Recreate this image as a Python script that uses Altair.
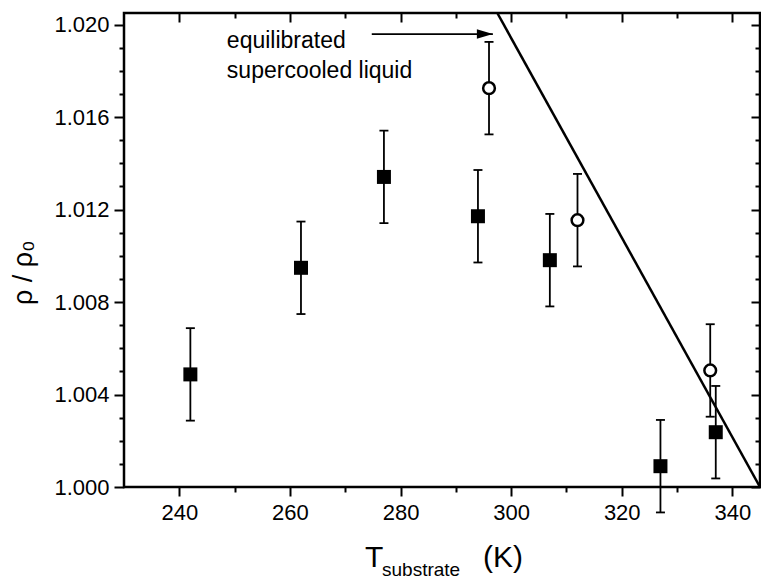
import altair as alt
import pandas as pd

FONT = "Liberation Sans"

# ---- data ----
sq_T = [242, 262, 277, 294, 307, 327, 337]
sq_rho = [1.00487, 1.00948, 1.01341, 1.01171, 1.00981, 1.00090, 1.00237]
sq_err = [0.002, 0.002, 0.002, 0.002, 0.002, 0.002, 0.002]

oc_T = [296, 312, 336]
oc_rho = [1.01725, 1.01154, 1.00504]
oc_err = [0.002, 0.002, 0.002]

line_T = [297.5, 345.0]
line_rho = [1.0205, 1.0000]

arrow_T = [274.8, 296.7]
arrow_rho = [1.01959, 1.01959]

note_text = ["equilibrated", "supercooled liquid"]
note_T = [248.6, 248.6]
note_rho = [1.01900, 1.01769]

x_major = [240, 260, 280, 300, 320, 340]
x_minor = [250, 270, 290, 310, 330]
y_major = [1.000, 1.004, 1.008, 1.012, 1.016, 1.020]
y_minor = [1.001, 1.002, 1.003, 1.005, 1.006, 1.007, 1.009, 1.010, 1.011,
           1.013, 1.014, 1.015, 1.017, 1.018, 1.019]

x_title_parts = ["T", "substrate", "(K)"]
y_title_text = "ρ / ρ₀"

# ---- tables ----
sq = pd.DataFrame({"T": sq_T, "rho": sq_rho,
                   "lo": [r - e for r, e in zip(sq_rho, sq_err)],
                   "hi": [r + e for r, e in zip(sq_rho, sq_err)]})
oc = pd.DataFrame({"T": oc_T, "rho": oc_rho,
                   "lo": [r - e for r, e in zip(oc_rho, oc_err)],
                   "hi": [r + e for r, e in zip(oc_rho, oc_err)]})
allpts = pd.concat([sq, oc], ignore_index=True)
line_df = pd.DataFrame({"T": line_T, "rho": line_rho})
arrow_df = pd.DataFrame({"T": arrow_T, "rho": arrow_rho})
head_df = pd.DataFrame({"T": [arrow_T[-1]], "rho": [arrow_rho[-1]]})
note_df = pd.DataFrame({"T": note_T, "rho": note_rho, "txt": note_text})

xs = alt.Scale(domain=[230, 345], nice=False, zero=False)
ys = alt.Scale(domain=[1.0, 1.0205], nice=False, zero=False)

common = dict(domain=False, grid=False, title=None, tickColor="black")

ax_x_major = alt.Axis(orient="bottom", values=x_major, tickSize=9, tickWidth=2,
                      labelFont=FONT, labelFontSize=22, labelColor="black",
                      labelPadding=6, labelFlush=False, format="d", **common)
ax_x_minor = alt.Axis(orient="bottom", values=x_minor, tickSize=5, tickWidth=2,
                      labels=False, **common)
ax_x_top_major = alt.Axis(orient="top", values=x_major, tickSize=9, tickWidth=2,
                          offset=-9, labels=False, **common)
ax_x_top_minor = alt.Axis(orient="top", values=x_minor, tickSize=5, tickWidth=2,
                          offset=-5, labels=False, **common)

ax_y_major = alt.Axis(orient="left", values=y_major, tickSize=10, tickWidth=2,
                      labelFont=FONT, labelFontSize=22, labelColor="black",
                      labelPadding=5, labelFlush=False, format=".3f", **common)
ax_y_minor = alt.Axis(orient="left", values=y_minor, tickSize=5, tickWidth=2,
                      labels=False, **common)
ax_y_right_major = alt.Axis(orient="right", values=y_major, tickSize=9, tickWidth=2,
                            offset=-9, labels=False, **common)
ax_y_right_minor = alt.Axis(orient="right", values=y_minor, tickSize=5, tickWidth=2,
                            offset=-5, labels=False, **common)

bars = alt.Chart(allpts).mark_rule(color="black", strokeWidth=1.8).encode(
    x=alt.X("T:Q", scale=xs, axis=ax_x_major),
    y=alt.Y("lo:Q", scale=ys, axis=ax_y_major),
    y2="hi:Q",
)
caps_lo = alt.Chart(allpts).mark_tick(orient="horizontal", size=9, thickness=1.8,
                                      color="black", opacity=1).encode(
    x=alt.X("T:Q", scale=xs, axis=ax_x_minor),
    y=alt.Y("lo:Q", scale=ys, axis=ax_y_minor),
)
caps_hi = alt.Chart(allpts).mark_tick(orient="horizontal", size=9, thickness=1.8,
                                      color="black", opacity=1).encode(
    x=alt.X("T:Q", scale=xs, axis=ax_x_top_major),
    y=alt.Y("hi:Q", scale=ys, axis=ax_y_right_major),
)
liq = alt.Chart(line_df).mark_line(color="black", strokeWidth=2.5, clip=True).encode(
    x=alt.X("T:Q", scale=xs, axis=None),
    y=alt.Y("rho:Q", scale=ys, axis=None),
)
arrow = alt.Chart(arrow_df).mark_line(color="black", strokeWidth=1.8).encode(
    x=alt.X("T:Q", scale=xs, axis=None),
    y=alt.Y("rho:Q", scale=ys, axis=None),
)
head = alt.Chart(head_df).mark_point(shape="M -2 -0.6 L 0 0 L -2 0.6 Z", size=256,
                                     filled=True, color="black", opacity=1).encode(
    x=alt.X("T:Q", scale=xs, axis=None),
    y=alt.Y("rho:Q", scale=ys, axis=None),
)
squares = alt.Chart(sq).mark_square(size=196, color="black", opacity=1).encode(
    x=alt.X("T:Q", scale=xs, axis=ax_x_top_minor),
    y=alt.Y("rho:Q", scale=ys, axis=ax_y_right_minor),
)
circles = alt.Chart(oc).mark_point(shape="circle", size=137, filled=True, fill="white",
                                   stroke="black", strokeWidth=2.5, opacity=1).encode(
    x=alt.X("T:Q", scale=xs, axis=None),
    y=alt.Y("rho:Q", scale=ys, axis=None),
)
notes = alt.Chart(note_df).mark_text(align="left", baseline="alphabetic", font=FONT,
                                     fontSize=23, color="black").encode(
    x=alt.X("T:Q", scale=xs, axis=None),
    y=alt.Y("rho:Q", scale=ys, axis=None),
    text="txt:N",
)

def label(txt, x, y, size, angle=0, font=FONT):
    return alt.Chart(pd.DataFrame({"t": [txt]})).mark_text(
        align="left", baseline="alphabetic", font=font, fontSize=size,
        color="black", angle=angle).encode(
        x=alt.value(x), y=alt.value(y), text="t:N")

t_T = label(x_title_parts[0], 241, 554, 30)
t_sub = label(x_title_parts[1], 258, 563, 19)
t_K = label(x_title_parts[2], 359, 554, 30)
y_title = label(y_title_text, -92, 292, 27, angle=270,
                font="Liberation Sans, DejaVu Sans")

chart = alt.layer(
    bars, caps_lo, caps_hi, liq, arrow, head, squares, circles, notes,
    t_T, t_sub, t_K, y_title,
).resolve_axis(
    x="independent", y="independent"
).properties(
    width=636, height=474,
    padding={"left": 124, "top": 13, "right": 1, "bottom": 94},
    autosize=alt.AutoSizeParams(type="none"),
    background="white",
).configure_view(
    stroke="black", strokeWidth=2.5
)

chart.save("out.html", embed_options={"renderer": "svg", "actions": False})
